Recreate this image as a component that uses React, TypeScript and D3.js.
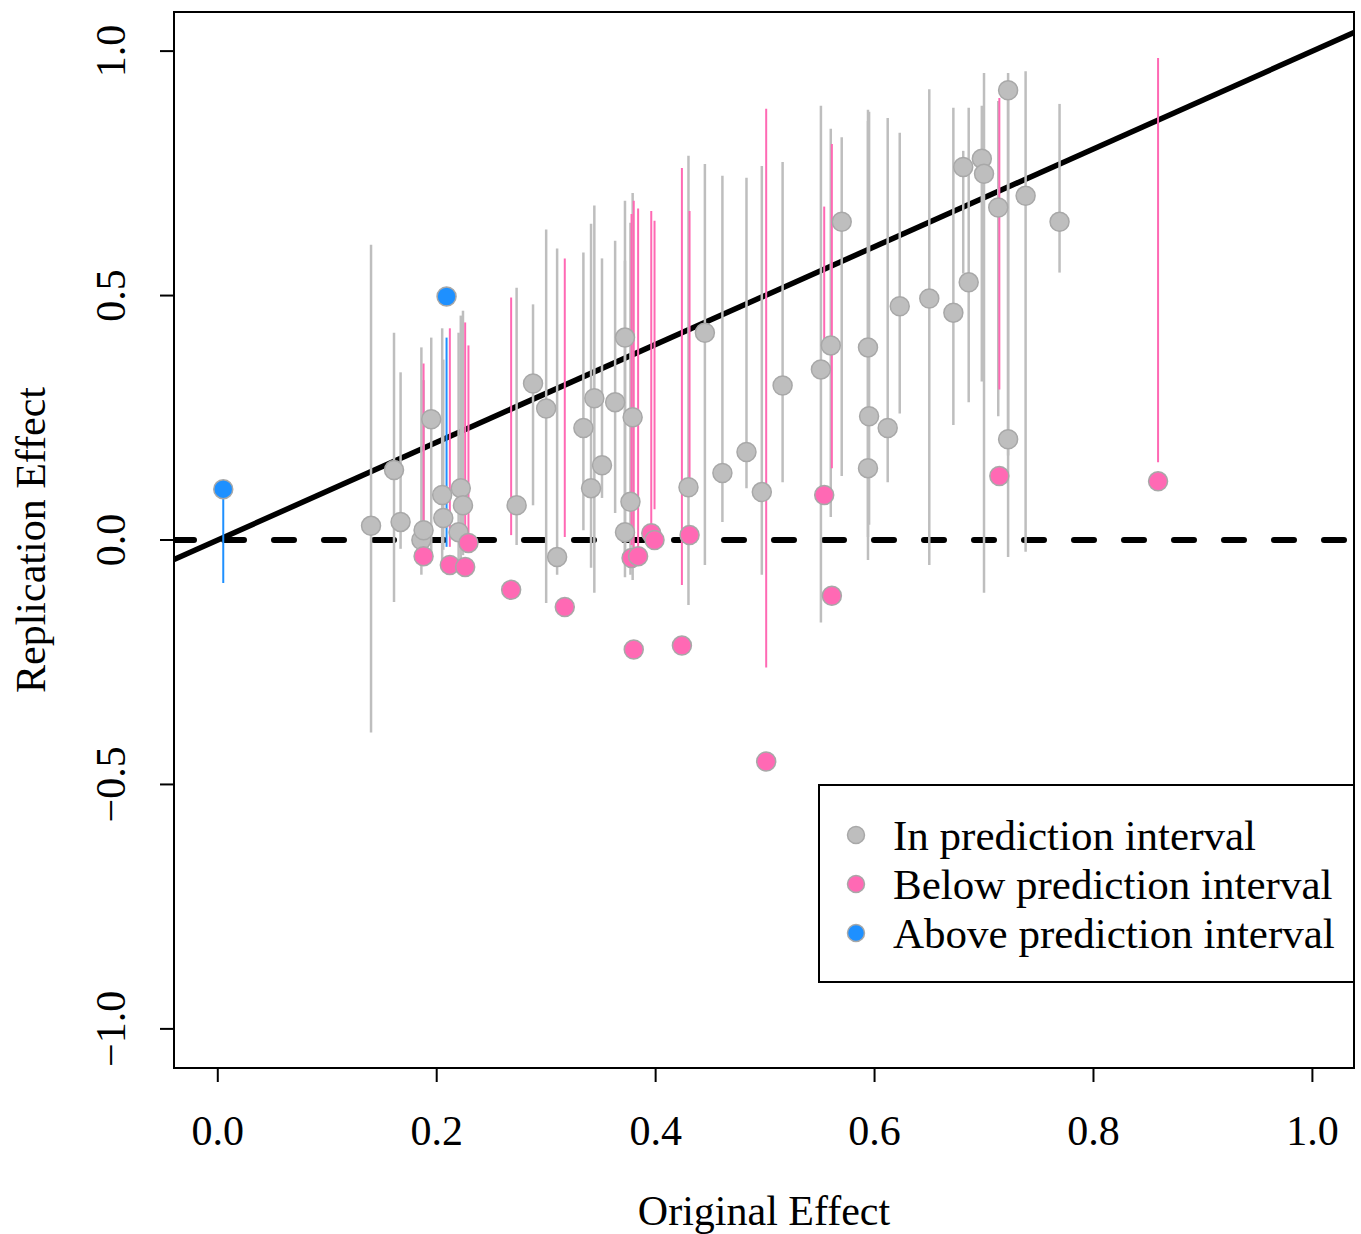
import React, { useEffect, useRef } from "react";
import * as d3 from "d3";

// axis ticks
const xTicks = [0, 0.2, 0.4, 0.6, 0.8, 1.0];
const yTicks = [-1, -0.5, 0, 0.5, 1];

// [original effect, replication effect, PI lower, PI upper]
const inInterval = [
  [0.140, 0.029, -0.394, 0.604],
  [0.161, 0.143, -0.127, 0.424],
  [0.167, 0.037, -0.018, 0.343],
  [0.186, 0.0, -0.071, 0.394],
  [0.188, 0.020, -0.010, 0.327],
  [0.195, 0.247, -0.041, 0.414],
  [0.205, 0.092, -0.041, 0.433],
  [0.206, 0.045, -0.020, 0.369],
  [0.222, 0.106, -0.041, 0.459],
  [0.224, 0.071, -0.031, 0.469],
  [0.220, 0.016, -0.041, 0.424],
  [0.273, 0.071, -0.010, 0.516],
  [0.288, 0.320, 0.071, 0.482],
  [0.300, 0.269, -0.129, 0.635],
  [0.310, -0.035, -0.071, 0.596],
  [0.334, 0.229, 0.020, 0.588],
  [0.341, 0.106, -0.057, 0.647],
  [0.344, 0.290, -0.108, 0.684],
  [0.351, 0.153, 0.086, 0.576],
  [0.363, 0.282, 0.055, 0.612],
  [0.372, 0.414, -0.076, 0.694],
  [0.379, 0.251, -0.082, 0.710],
  [0.377, 0.078, -0.071, 0.649],
  [0.372, 0.016, -0.041, 0.571],
  [0.430, 0.108, -0.133, 0.786],
  [0.445, 0.424, -0.051, 0.769],
  [0.461, 0.137, 0.037, 0.745],
  [0.483, 0.180, 0.106, 0.741],
  [0.497, 0.098, -0.071, 0.765],
  [0.516, 0.316, 0.118, 0.773],
  [0.551, 0.349, -0.169, 0.888],
  [0.560, 0.398, 0.047, 0.841],
  [0.570, 0.651, 0.131, 0.824],
  [0.594, 0.394, 0.006, 0.880],
  [0.595, 0.253, 0.031, 0.876],
  [0.594, 0.147, -0.041, 0.857],
  [0.612, 0.229, 0.118, 0.863],
  [0.623, 0.478, 0.259, 0.833],
  [0.650, 0.494, -0.051, 0.922],
  [0.672, 0.465, 0.235, 0.884],
  [0.681, 0.763, 0.545, 0.796],
  [0.686, 0.527, 0.282, 0.884],
  [0.698, 0.780, 0.324, 0.888],
  [0.700, 0.749, -0.108, 0.955],
  [0.713, 0.680, 0.253, 0.898],
  [0.722, 0.920, -0.035, 0.955],
  [0.722, 0.206, 0.173, 0.908],
  [0.738, 0.704, -0.024, 0.959],
  [0.769, 0.651, 0.547, 0.892],
];

const belowInterval = [
  [0.188, -0.033, -0.004, 0.361],
  [0.212, -0.051, -0.014, 0.433],
  [0.226, -0.055, -0.020, 0.445],
  [0.229, -0.006, 0.004, 0.398],
  [0.268, -0.102, 0.010, 0.496],
  [0.317, -0.137, 0.006, 0.576],
  [0.378, -0.037, -0.010, 0.667],
  [0.380, -0.224, -0.041, 0.694],
  [0.384, -0.033, -0.016, 0.678],
  [0.396, 0.014, 0.027, 0.673],
  [0.399, 0.0, 0.063, 0.653],
  [0.424, -0.216, -0.092, 0.761],
  [0.431, 0.010, 0.108, 0.673],
  [0.501, -0.453, -0.261, 0.882],
  [0.554, 0.092, 0.402, 0.682],
  [0.561, -0.114, 0.147, 0.810],
  [0.714, 0.131, 0.308, 0.904],
  [0.859, 0.120, 0.159, 0.986],
];

const aboveInterval = [
  [0.005, 0.104, -0.088, 0.086],
  [0.209, 0.498, -0.014, 0.414],
];

const legendLabels = [
  "In prediction interval",
  "Below prediction interval",
  "Above prediction interval",
];
const groupColors = ["#BEBEBE", "#FF69B4", "#1E90FF"];

const lineIntercept = 0;
const lineSlope = 1;

const W = 1361;
const H = 1234;
const FONT = "'Liberation Serif', 'Times New Roman', serif";

export default function App() {
  const ref = useRef<SVGSVGElement>(null);

  useEffect(() => {
    const svg = d3.select(ref.current);
    svg.selectAll("*").remove();

    const left = 174, right = 1354, top = 12, bottom = 1068;
    const x = d3.scaleLinear().domain([-0.04, 1.038]).range([left, right]);
    const y = d3.scaleLinear().domain([-1.08, 1.08]).range([bottom, top]);

    svg.append("defs").append("clipPath").attr("id", "plotclip")
      .append("rect")
      .attr("x", left).attr("y", top)
      .attr("width", right - left).attr("height", bottom - top);

    const plot = svg.append("g").attr("clip-path", "url(#plotclip)");

    // reference lines
    plot.append("line")
      .attr("x1", left).attr("x2", right)
      .attr("y1", y(0)).attr("y2", y(0))
      .attr("stroke", "#000").attr("stroke-width", 6)
      .attr("stroke-linecap", "round")
      .attr("stroke-dasharray", "20 30");

    const [x0, x1] = x.domain();
    plot.append("line")
      .attr("x1", x(x0)).attr("x2", x(x1))
      .attr("y1", y(lineIntercept + lineSlope * x0))
      .attr("y2", y(lineIntercept + lineSlope * x1))
      .attr("stroke", "#000").attr("stroke-width", 5.5);

    const groups = [inInterval, belowInterval, aboveInterval];

    // prediction intervals
    groups.forEach((data, gi) => {
      plot.append("g").selectAll("line")
        .data(data)
        .enter()
        .append("line")
        .attr("x1", d => x(d[0])).attr("x2", d => x(d[0]))
        .attr("y1", d => y(d[2])).attr("y2", d => y(d[3]))
        .attr("stroke", groupColors[gi])
        .attr("stroke-width", gi === 0 ? 2.5 : 2);
    });

    // points
    groups.forEach((data, gi) => {
      plot.append("g").selectAll("circle")
        .data(data)
        .enter()
        .append("circle")
        .attr("cx", d => x(d[0]))
        .attr("cy", d => y(d[1]))
        .attr("r", 9.5)
        .attr("fill", groupColors[gi])
        .attr("stroke", "#A8A8A8")
        .attr("stroke-width", 1.5);
    });

    // box
    svg.append("rect")
      .attr("x", left).attr("y", top)
      .attr("width", right - left).attr("height", bottom - top)
      .attr("fill", "none").attr("stroke", "#000").attr("stroke-width", 2);

    const fmt = (v: number) => (v < 0 ? "\u2212" : "") + d3.format(".1f")(Math.abs(v));

    // x axis
    const xa = svg.append("g");
    xa.selectAll("line").data(xTicks).enter().append("line")
      .attr("x1", d => x(d)).attr("x2", d => x(d))
      .attr("y1", bottom).attr("y2", bottom + 14)
      .attr("stroke", "#000").attr("stroke-width", 2);
    xa.selectAll("text").data(xTicks).enter().append("text")
      .attr("x", d => x(d)).attr("y", 1145)
      .attr("text-anchor", "middle")
      .style("font-family", FONT).style("font-size", "42px")
      .text(d => fmt(d));

    // y axis
    const ya = svg.append("g");
    ya.selectAll("line").data(yTicks).enter().append("line")
      .attr("x1", left - 14).attr("x2", left)
      .attr("y1", d => y(d)).attr("y2", d => y(d))
      .attr("stroke", "#000").attr("stroke-width", 2);
    ya.selectAll("text").data(yTicks).enter().append("text")
      .attr("transform", d => `translate(125 ${y(d)}) rotate(-90)`)
      .attr("text-anchor", "middle")
      .style("font-family", FONT).style("font-size", "42px")
      .text(d => fmt(d));

    // axis titles
    svg.append("text")
      .attr("x", (left + right) / 2).attr("y", 1225)
      .attr("text-anchor", "middle")
      .style("font-family", FONT).style("font-size", "42px")
      .text("Original Effect");
    svg.append("text")
      .attr("transform", `translate(45 ${(top + bottom) / 2}) rotate(-90)`)
      .attr("text-anchor", "middle")
      .style("font-family", FONT).style("font-size", "42px")
      .text("Replication Effect");

    // legend
    const lg = svg.append("g");
    lg.append("rect")
      .attr("x", 819).attr("y", 785)
      .attr("width", 535).attr("height", 197)
      .attr("fill", "#fff").attr("stroke", "#000").attr("stroke-width", 2);
    legendLabels.forEach((label, i) => {
      const cy = 835 + i * 49;
      lg.append("circle")
        .attr("cx", 856).attr("cy", cy).attr("r", 8.5)
        .attr("fill", groupColors[i])
        .attr("stroke", "#A8A8A8").attr("stroke-width", 1.5);
      lg.append("text")
        .attr("x", 893).attr("y", cy + 15)
        .style("font-family", FONT).style("font-size", "43px")
        .text(label);
    });
  }, []);

  return (
    <svg
      ref={ref}
      width={W}
      height={H}
      style={{ position: "absolute", left: 0, top: 0, background: "#fff" }}
    />
  );
}
